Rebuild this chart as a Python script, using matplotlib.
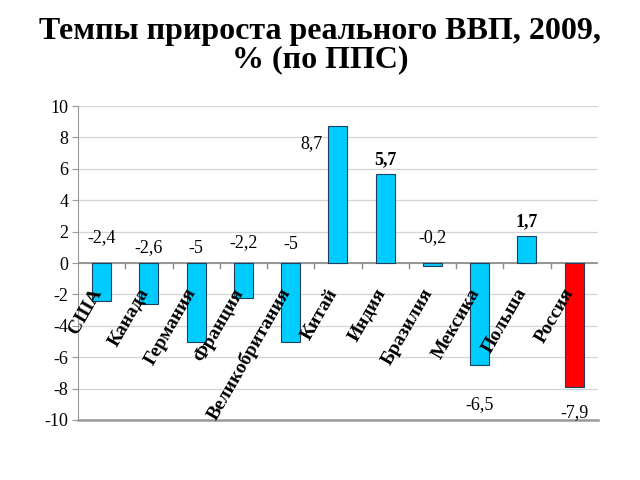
import matplotlib
matplotlib.use("Agg")
import matplotlib.pyplot as plt
import numpy as np

categories = ["США", "Канада", "Германия", "Франция", "Великобритания", "Китай",
              "Индия", "Бразилия", "Мексика", "Польша", "Россия"]
values = [-2.4, -2.6, -5.0, -2.2, -5.0, 8.7, 5.7, -0.2, -6.5, 1.7, -7.9]
value_labels = ["-2,4", "-2,6", "-5", "-2,2", "-5", "8,7", "5,7", "-0,2", "-6,5", "1,7", "-7,9"]
label_y = [1.65, 1.0, 0.9, 1.3, 1.2, 7.6, 6.6, 1.6, -9.0, 2.6, -9.5]
label_dx = [0, 0, 0, 0, 0, -0.55, 0, 0, 0, 0, 0]
label_bold = [False, False, False, False, False, False, True, False, False, True, False]
yticks = [-10, -8, -6, -4, -2, 0, 2, 4, 6, 8, 10]

serif = ["Liberation Serif", "DejaVu Serif"]
plt.rcParams["font.family"] = serif

fig = plt.figure(figsize=(6.4, 4.8), dpi=100)
ax = fig.add_axes([0.122, 0.125, 0.812, 0.654])

x = np.arange(len(categories))
colors = ["#00CCFF"] * (len(categories) - 1) + ["#FF0000"]
ax.bar(x, values, width=0.4, color=colors, edgecolor="#1f3f5f", linewidth=0.8, zorder=3)

ax.set_xlim(-0.5, len(categories) - 0.5)
ax.set_ylim(-10, 10)
ax.set_yticks(yticks)
ax.set_yticklabels([str(v) for v in yticks], fontsize=13)
ax.set_xticks([])
ax.grid(axis="y", color="#d4d4d4", linewidth=0.9, zorder=0)
ax.axhline(0, color="#888888", linewidth=1.2, zorder=2)
for b in np.arange(0.5, len(categories) - 0.5, 1.0):
    ax.plot([b, b], [0, -0.3], color="#888888", linewidth=1.0, zorder=2)

for s in ["top", "right"]:
    ax.spines[s].set_visible(False)
ax.spines["left"].set_color("#999999")
ax.spines["bottom"].set_color("#999999")
ax.spines["bottom"].set_linewidth(1.8)
ax.tick_params(axis="y", color="#999999", length=4, pad=3)

for i, cat in enumerate(categories):
    ax.text(i - 0.08, -1.7, cat, rotation=60, rotation_mode="anchor", ha="right", va="center",
            fontweight="bold", fontsize=14, zorder=4)

for i, lab in enumerate(value_labels):
    ax.text(i + label_dx[i], label_y[i], lab, ha="center", va="center",
            fontsize=13, fontweight="bold" if label_bold[i] else "normal", zorder=4)

fig.text(0.5, 0.905, "Темпы прироста реального ВВП, 2009,\n% (по ППС)", ha="center", va="center",
         fontweight="bold", fontsize=23, linespacing=0.95)

fig.savefig("out.png", dpi=100)
